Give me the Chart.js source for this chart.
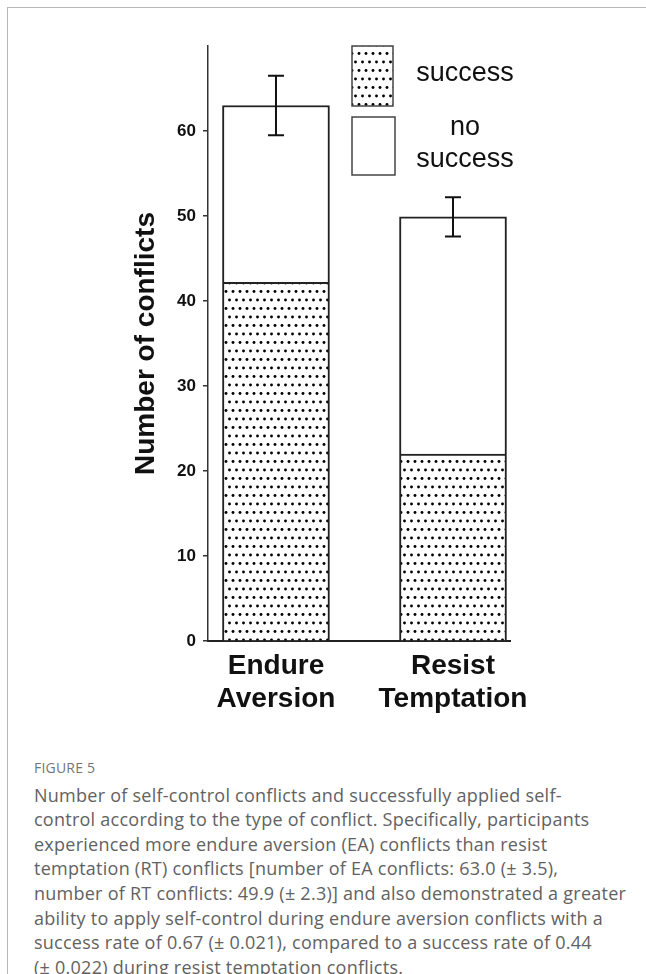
<!DOCTYPE html>
<html>
<head>
<meta charset="utf-8">
<script src="https://cdn.jsdelivr.net/npm/chart.js@4.4.1/dist/chart.umd.min.js"></script>
<style>
  html, body { margin: 0; padding: 0; background: #fff; }
  body { width: 646px; height: 974px; position: relative; overflow: hidden; }
  #frame { position: absolute; left: 7px; top: 7px; right: -2px; bottom: -2px;
           border-left: 1px solid #b8b8b8; border-top: 1px solid #b8b8b8; }
  #plot { position: absolute; left: 0; top: 0; }
  #caption { position: absolute; left: 34px; top: 758px; width: 612px;
             font-family: "Open Sans", "Liberation Sans", sans-serif; white-space: nowrap; }
  #caption .fig { font-size: 14px; line-height: 20px; color: #757575; letter-spacing: 0.2px; }
  #caption .txt { font-size: 18px; line-height: 24.6px; color: #626262; letter-spacing: 0.25px; margin-top: 4.7px; }
</style>
</head>
<body>
<div id="frame"></div>
<canvas id="plot" width="646" height="740"></canvas>
<div id="caption">
  <div class="fig">FIGURE 5</div>
  <div class="txt">Number of self-control conflicts and successfully applied self-<br>control according to the type of conflict. Specifically, participants<br>experienced more endure aversion (EA) conflicts than resist<br>temptation (RT) conflicts [number of EA conflicts: 63.0 (± 3.5),<br>number of RT conflicts: 49.9 (± 2.3)] and also demonstrated a greater<br>ability to apply self-control during endure aversion conflicts with a<br>success rate of 0.67 (± 0.021), compared to a success rate of 0.44<br>(± 0.022) during resist temptation conflicts.</div>
</div>
<script>
// Conflict types and mean counts per participant
const categories = [["Endure", "Aversion"], ["Resist", "Temptation"]];
const successCounts = [42.2, 22.0];
const noSuccessCounts = [20.8, 27.9];
const errorTotals = [3.5, 2.3];
const seriesNames = ["success", "no success"];
const yTicks = [0, 10, 20, 30, 40, 50, 60];

const FONT = "'Liberation Sans', Arial, sans-serif";

// Stippled fill used for the "success" portion
function makeDotPattern() {
  const tile = document.createElement('canvas');
  tile.width = 7; tile.height = 17;
  const c = tile.getContext('2d');
  c.fillStyle = '#ffffff';
  c.fillRect(0, 0, 7, 17);
  c.fillStyle = '#000000';
  [[2, 2.5], [5.5, 11]].forEach(([x, y]) => {
    c.beginPath(); c.arc(x, y, 1.45, 0, Math.PI * 2); c.fill();
  });
  return document.getElementById('plot').getContext('2d').createPattern(tile, 'repeat');
}
const dots = makeDotPattern();

const toPoints = arr => arr.map((v, i) => ({ x: i, y: v }));

// Error bars on top of each stacked column
const errorBarPlugin = {
  id: 'errorBars',
  afterDatasetsDraw(chart) {
    const { ctx, scales: { x, y } } = chart;
    ctx.save();
    ctx.strokeStyle = '#111';
    ctx.lineWidth = 2;
    errorTotals.forEach((err, i) => {
      const total = successCounts[i] + noSuccessCounts[i];
      const px = x.getPixelForValue(i);
      const top = y.getPixelForValue(total + err);
      const bot = y.getPixelForValue(total - err);
      ctx.beginPath();
      ctx.moveTo(px, top); ctx.lineTo(px, bot);
      ctx.moveTo(px - 8, top); ctx.lineTo(px + 8, top);
      ctx.moveTo(px - 8, bot); ctx.lineTo(px + 8, bot);
      ctx.stroke();
    });
    ctx.restore();
  }
};

// Boxed legend in the upper right of the plot
const boxLegendPlugin = {
  id: 'boxLegend',
  afterDraw(chart) {
    const { ctx, chartArea } = chart;
    const x0 = chartArea.left + 144;
    const boxes = [
      { top: chartArea.top, h: 60, w: 41 },
      { top: chartArea.top + 71, h: 58, w: 43 }
    ];
    ctx.save();
    chart.data.datasets.forEach((ds, i) => {
      const b = boxes[i];
      ctx.fillStyle = ds.backgroundColor;
      ctx.fillRect(x0, b.top, b.w, b.h);
      ctx.strokeStyle = '#444';
      ctx.lineWidth = 1.5;
      ctx.strokeRect(x0, b.top, b.w, b.h);
      const lines = ds.label.split(' ');
      ctx.fillStyle = '#111';
      ctx.font = '27px ' + FONT;
      ctx.textAlign = 'center';
      ctx.textBaseline = 'middle';
      const cy = b.top + b.h / 2 - (lines.length - 1) * 16 - 2;
      lines.forEach((t, k) => ctx.fillText(t, x0 + 113, cy + k * 32));
    });
    ctx.restore();
  }
};

new Chart(document.getElementById('plot'), {
  type: 'bar',
  data: {
    datasets: [
      { label: seriesNames[0], data: toPoints(successCounts), backgroundColor: dots,
        borderColor: '#222', borderWidth: 2 },
      { label: seriesNames[1], data: toPoints(noSuccessCounts), backgroundColor: '#ffffff',
        borderColor: '#222', borderWidth: 2 }
    ]
  },
  options: {
    responsive: false,
    animation: false,
    barThickness: 107,
    layout: { padding: { left: 129, right: 136, top: 46, bottom: 19 } },
    plugins: { legend: { display: false }, tooltip: { enabled: false } },
    scales: {
      x: {
        type: 'linear',
        stacked: true,
        offset: false,
        min: -0.384,
        max: 1.322,
        afterBuildTicks: s => { s.ticks = categories.map((_, i) => ({ value: i })); },
        afterFit: s => { s.height = 80; },
        grid: { display: false, drawTicks: false },
        border: { display: true, color: '#222', width: 2 },
        ticks: {
          autoSkip: false, maxRotation: 0, padding: 9, color: '#111',
          font: { family: FONT, size: 28, weight: 'bold', lineHeight: 1.18 },
          callback: v => categories[v] || ''
        }
      },
      y: {
        stacked: true,
        min: 0,
        max: 70,
        afterBuildTicks: s => { s.ticks = yTicks.map(v => ({ value: v })); },
        afterFit: s => { s.width = 79; },
        grid: { drawOnChartArea: false, drawTicks: true, tickLength: 5, color: '#333', lineWidth: 1.5 },
        border: { display: true, color: '#333', width: 1.5 },
        ticks: { padding: 7, color: '#111', font: { family: FONT, size: 17, weight: 'bold' } },
        title: {
          display: true, text: 'Number of conflicts', color: '#111',
          padding: { top: 0, bottom: 0 },
          font: { family: FONT, size: 28, weight: 'bold', lineHeight: 1.2 }
        }
      }
    }
  },
  plugins: [errorBarPlugin, boxLegendPlugin]
});
</script>
</body>
</html>
